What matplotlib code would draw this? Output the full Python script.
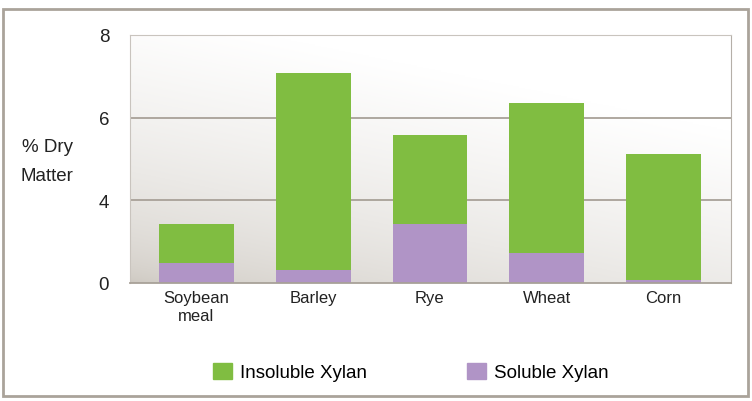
import numpy as np
import matplotlib
matplotlib.use('Agg')
import matplotlib.pyplot as plt
from matplotlib.patches import Rectangle, Patch

plt.rcParams['font.family'] = ['Liberation Sans', 'DejaVu Sans']

# ---- data (axis units, 0-8 span) ----
categories = ['Soybean\nmeal', 'Barley', 'Rye', 'Wheat', 'Corn']
soluble = [0.65, 0.42, 1.90, 0.97, 0.10]
insoluble = [1.25, 6.35, 2.87, 4.84, 4.06]
tick_pos = [0, 8 / 3, 16 / 3, 8]
tick_labels = ['0', '4', '6', '8']

GREEN = '#80bd41'
PURPLE = '#b094c6'
GRID = '#a8a198'

W, H = 752, 402
fig = plt.figure(figsize=(W / 100, H / 100), dpi=100)

# outer frame
fig.patches.append(Rectangle((3 / W, 5 / H), 745 / W, 387 / H, transform=fig.transFigure,
                             fill=False, edgecolor='#aaa39a', lw=2))

ax = fig.add_axes([130 / W, (H - 284) / H, 601 / W, 248 / H])

x = np.arange(len(categories))
ax.set_xlim(-0.57, 4.58)
ax.set_ylim(0, 8)

# gradient background: greyish bottom-left, white top-right
gx, gy = np.meshgrid(np.linspace(0, 1, 200), np.linspace(0, 1, 200))
t = np.clip(0.45 * gx + 0.9 * gy, 0, 1) ** 0.55
lo = np.array([0.80, 0.78, 0.75])
hi = np.array([1.0, 1.0, 1.0])
img = lo + (hi - lo) * t[..., None]
ax.imshow(img, extent=(-0.57, 4.58, 0, 8), origin='lower', aspect='auto', zorder=0)

for yv in tick_pos[1:-1]:
    ax.axhline(yv, color=GRID, lw=1.3, zorder=1)

ax.bar(x, soluble, width=0.64, color=PURPLE, zorder=2)
ax.bar(x, insoluble, width=0.64, bottom=soluble, color=GREEN, zorder=2)

ax.set_yticks(tick_pos)
ax.set_yticklabels(tick_labels, fontsize=13.5, color='#222222')
ax.set_xticks(x)
ax.set_xticklabels(categories, fontsize=12, linespacing=1.25, color='#222222',
                   family=['Liberation Sans Narrow', 'Liberation Sans'])
ax.tick_params(length=0)
ax.tick_params(axis='y', pad=15)
ax.tick_params(axis='x', pad=5)

for s in ['left', 'top']:
    ax.spines[s].set_color('#c9c4be')
ax.spines['right'].set_color('#b5afa8')
ax.spines['bottom'].set_color(GRID)
ax.spines['bottom'].set_linewidth(1.3)

fig.text(47 / W, 1 - 162 / H, '% Dry\nMatter', ha='center', va='center',
         fontsize=13.5, linespacing=1.85, color='#222222')

handles = [Patch(color=GREEN), Patch(color=PURPLE)]
fig.legend(handles, ['Insoluble Xylan', 'Soluble Xylan'], loc='center',
           bbox_to_anchor=(411 / W, 1 - 373 / H), ncol=2, frameon=False,
           fontsize=13.5, handlelength=1.0, handleheight=1.0, handletextpad=0.45,
           columnspacing=5.3)

fig.savefig('out.png', dpi=100)
